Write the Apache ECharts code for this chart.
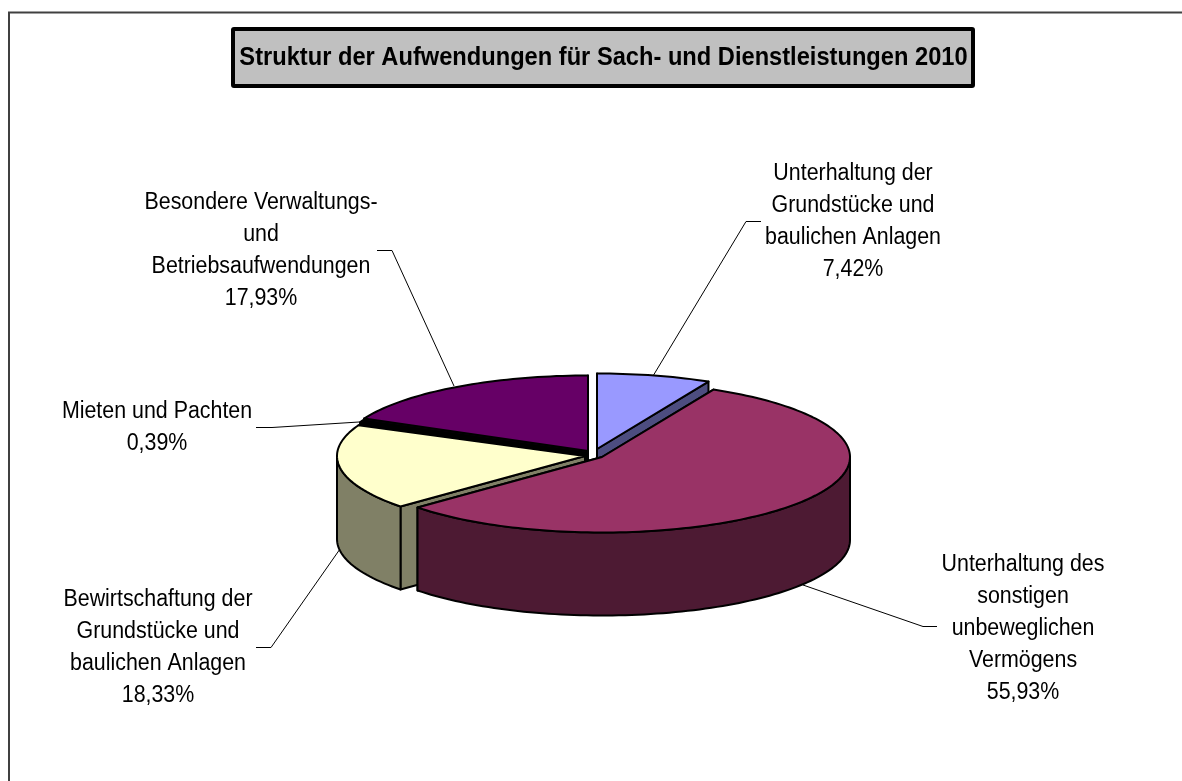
<!DOCTYPE html>
<html><head><meta charset="utf-8">
<style>html,body{margin:0;padding:0;background:#fff}#c{width:1182px;height:781px}</style>
<script src="https://cdn.jsdelivr.net/npm/echarts@6/dist/echarts.min.js"></script>
</head><body><div id="c"></div>
<script>
const titleText = 'Struktur der Aufwendungen für Sach- und Dienstleistungen 2010';
const categories = [
  ['Unterhaltung der','Grundstücke und','baulichen Anlagen'],
  ['Unterhaltung des','sonstigen','unbeweglichen','Vermögens'],
  ['Bewirtschaftung der','Grundstücke und','baulichen Anlagen'],
  ['Mieten und Pachten'],
  ['Besondere Verwaltungs-','und','Betriebsaufwendungen']
];
const shares = [7.42, 55.93, 18.33, 0.39, 17.93];

// styles and layout (not data)
const topColors  = ['#9999ff','#993366','#ffffcc','#000000','#660066'];
const sideColors = ['#4d4d80','#4d1a33','#808066','#000000','#330033'];
const sliceCenters = [[597,449],[602,457],[585,456],[586.5,453],[588,451]];
const paintOrder = [4,3,0,2,1];
const RX = 248, RY = 75.5, DEPTH = 83;
const labelCenters = [[853,222],[1023,629],[158,648],[157,428],[261,251]];
const leaders = [
  [[653,376],[746,221.5],[761,221.5]],
  [[803,585],[923,626.5],[937,626.5]],
  [[340,549],[271,647.5],[256,647.5]],
  [[359,422],[272,427.5],[256,427.5]],
  [[454,386],[392,250.5],[377,250.5]]
];

const fmt = v => v.toFixed(2).replace('.', ',') + '%';
const total = shares.reduce((a,b)=>a+b,0);
const startDeg = []; let acc = 0;
shares.forEach(v=>{ startDeg.push(acc); acc += v/total*360; });

function pt(c,deg,dz){ const r=deg*Math.PI/180; return [c[0]+RX*Math.sin(r), c[1]-RY*Math.cos(r)+(dz||0)]; }
function arc(c,a,b,dz){ const o=[], n=Math.max(2,Math.ceil(Math.abs(b-a)/1.5)); for(let k=0;k<=n;k++) o.push(pt(c,a+(b-a)*k/n,dz)); return o; }

function renderItem(params, api){
  const i = api.value(0), a0 = startDeg[i], a1 = a0 + shares[i]/total*360, c = sliceCenters[i];
  const border = {stroke:'#000', lineWidth:2, lineJoin:'round'};
  const poly = (pts,fill)=>({type:'polygon',shape:{points:pts},style:Object.assign({fill},border),silent:true});
  const down = p=>[p[0],p[1]+DEPTH];
  const face = deg=>{const p=pt(c,deg); return [c,p,down(p),down(c)];};
  const ch = [poly(face(a1),sideColors[i]), poly(face(a0),sideColors[i])];
  const w0 = Math.max(a0,90), w1 = Math.min(a1,270);
  if (w1 > w0) ch.push(poly(arc(c,w0,w1,0).concat(arc(c,w1,w0,DEPTH)),sideColors[i]));
  ch.push(poly([c].concat(arc(c,a0,a1,0)),topColors[i]));
  return {type:'group',children:ch};
}

const graphics = [
  {type:'polyline',shape:{points:[[9,781],[9,12.5],[1182,12.5]]},style:{stroke:'#404040',lineWidth:2,fill:null},silent:true},
  {type:'rect',shape:{x:233,y:29,width:740,height:57,r:1},style:{fill:'#c0c0c0',stroke:'#000',lineWidth:4},silent:true},
  {type:'text',x:603.5,y:57.5,scaleX:0.91,silent:true,
    style:{text:titleText,fill:'#000',font:'bold 26px "Liberation Sans"',align:'center',verticalAlign:'middle'}}
];
leaders.forEach(l=>graphics.push({type:'polyline',shape:{points:l},style:{stroke:'#000',lineWidth:1,fill:null},silent:true}));
categories.forEach((lines,i)=>{
  graphics.push({type:'text',x:labelCenters[i][0],y:labelCenters[i][1],scaleX:0.91,silent:true,
    style:{text:lines.concat(fmt(shares[i])).join('\n'),fill:'#000',font:'23.5px "Liberation Sans"',
      align:'center',verticalAlign:'middle',lineHeight:32}});
});

const chart = echarts.init(document.getElementById('c'),null,{renderer:'canvas'});
chart.setOption({
  animation:false,
  backgroundColor:'#fff',
  graphic:{elements:graphics},
  series:[{type:'custom',coordinateSystem:'none',silent:true,z:3,
    data:paintOrder.map(i=>[i]),renderItem}]
});
</script></body></html>
